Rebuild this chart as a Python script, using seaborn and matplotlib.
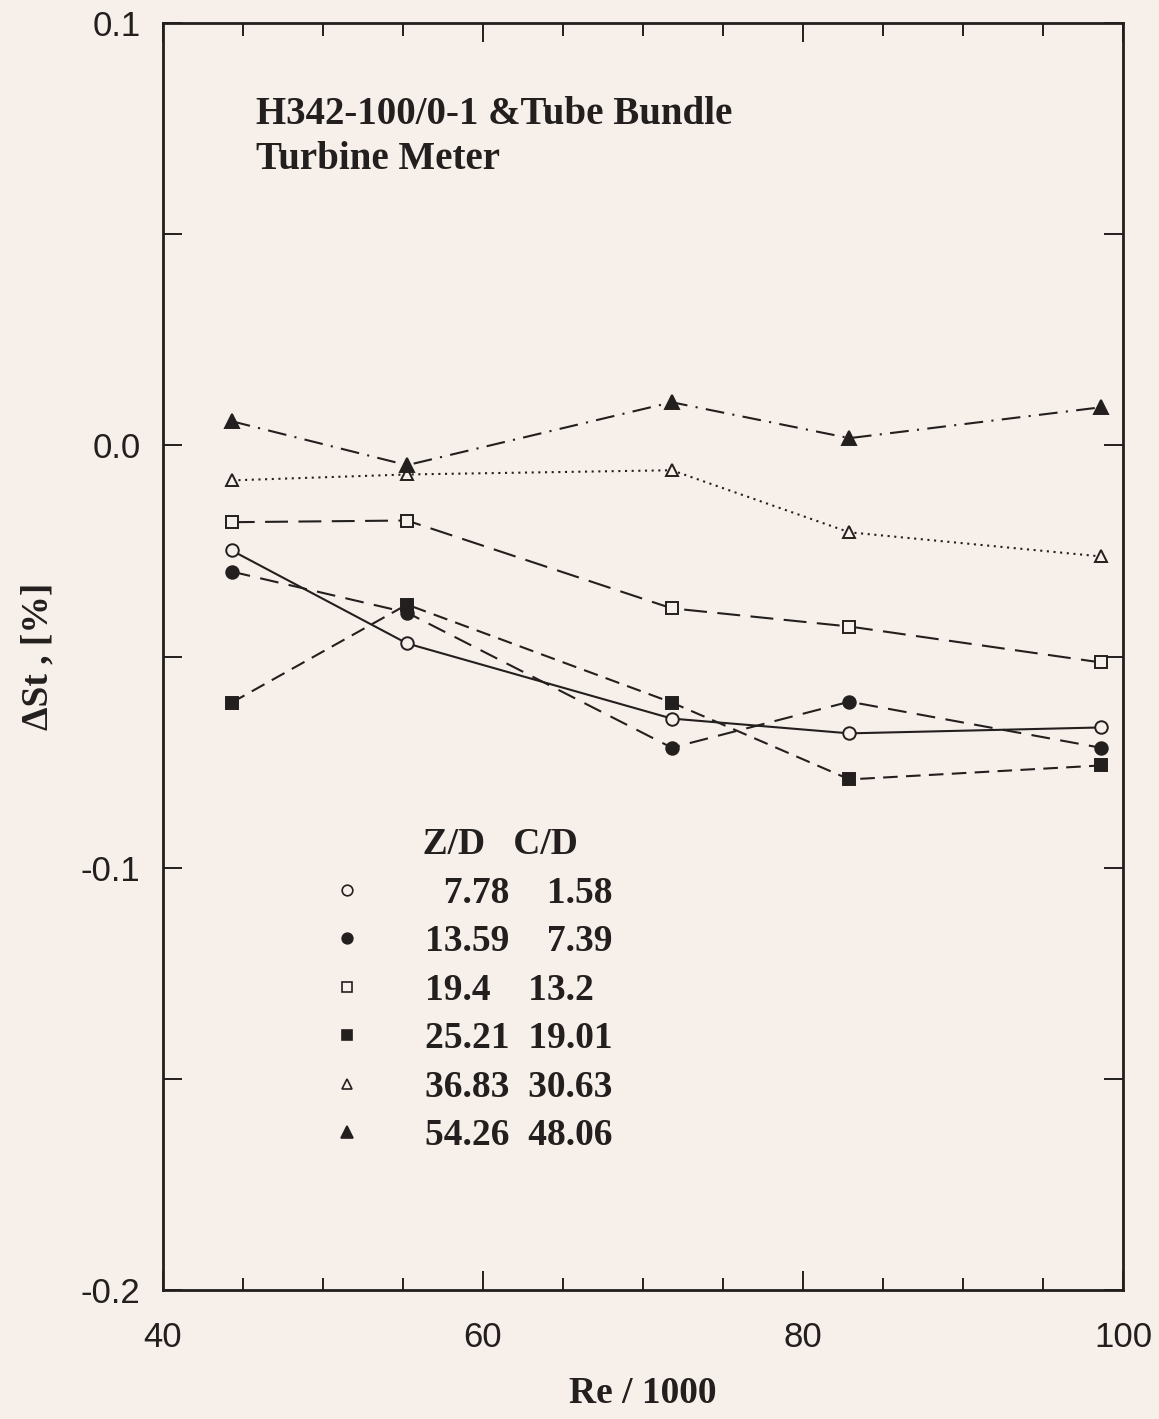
import matplotlib
matplotlib.use("Agg")
import matplotlib.pyplot as plt
import seaborn as sns
import pandas as pd
from matplotlib.ticker import MultipleLocator, FuncFormatter
from matplotlib.lines import Line2D

# Reynolds number / 1000 at each measuring point
re_k = [44.3, 55.25, 71.8, 82.9, 98.6]

# Strouhal number deviation [%] for each Z/D, C/D position
st_778 = [-0.0249, -0.0469, -0.0647, -0.0682, -0.0668]
st_1359 = [-0.0299, -0.0396, -0.0716, -0.0607, -0.0716]
st_194 = [-0.0182, -0.0178, -0.0386, -0.0429, -0.0514]
st_2521 = [-0.0609, -0.0377, -0.0609, -0.0791, -0.0758]
st_3683 = [-0.0083, -0.0069, -0.0059, -0.0206, -0.0263]
st_5426 = [0.0057, -0.0047, 0.0102, 0.0017, 0.0090]

z_d = ["7.78", "13.59", "19.4", "25.21", "36.83", "54.26"]
c_d = ["1.58", "7.39", "13.2", "19.01", "30.63", "48.06"]

title_lines = ["H342-100/0-1 &Tube Bundle", "Turbine Meter"]

series = [st_778, st_1359, st_194, st_2521, st_3683, st_5426]

BG = "#f7f0ea"
INK = "#231f1f"

# marker, filled?, line style, marker size
styles = [
    ("o", False, "-", 9),
    ("o", True, (0, (9, 5)), 9),
    ("s", False, (0, (11, 5)), 8.5),
    ("s", True, (0, (7, 4)), 8),
    ("^", False, (0, (1, 2.2)), 9),
    ("^", True, (0, (9, 4, 1, 4)), 9.5),
]

rows = []
for i, vals in enumerate(series):
    for x, y in zip(re_k, vals):
        rows.append({"re": x, "dst": y, "pos": i})
df = pd.DataFrame(rows)

sns.set_theme(style="ticks")
plt.rcParams["font.family"] = ["Liberation Sans", "DejaVu Sans"]

fig = plt.figure(figsize=(11.59, 14.19), dpi=100, facecolor=BG)
ax = fig.add_axes([0.1406, 0.0909, 0.8284, 0.8929])
ax.set_facecolor(BG)

for i, (mk, filled, ls, ms) in enumerate(styles):
    sub = df[df["pos"] == i]
    sns.lineplot(data=sub, x="re", y="dst", ax=ax, color=INK,
                 linestyle=ls, linewidth=1.5,
                 marker=mk, markersize=ms,
                 markerfacecolor=INK if filled else BG,
                 markeredgecolor=INK, markeredgewidth=1.4,
                 legend=False)

ax.set_xlim(40, 100)
ax.set_ylim(-0.2, 0.1)
ax.xaxis.set_major_locator(MultipleLocator(20))
ax.xaxis.set_minor_locator(MultipleLocator(5))
ax.yaxis.set_major_locator(MultipleLocator(0.1))
ax.yaxis.set_minor_locator(MultipleLocator(0.05))
ax.xaxis.set_major_formatter(FuncFormatter(lambda v, p: f"{v:.0f}"))
ax.yaxis.set_major_formatter(FuncFormatter(lambda v, p: f"{v:.1f}"))

ax.tick_params(axis="both", which="both", direction="in",
               bottom=True, left=True, top=True, right=True,
               colors=INK, width=1.4)
ax.tick_params(axis="x", which="major", length=14, labelsize=25, pad=22)
ax.tick_params(axis="x", which="minor", length=9)
ax.tick_params(axis="y", which="major", length=14, labelsize=25, pad=16)
ax.tick_params(axis="y", which="minor", length=14)
for s in ax.spines.values():
    s.set_visible(True)
    s.set_color(INK)
    s.set_linewidth(2.0)

serif = ["Liberation Serif", "DejaVu Serif"]
ax.set_xlabel("Re / 1000", family=serif, fontweight="bold", fontsize=27,
              color=INK, labelpad=16)
ax.set_ylabel("ΔSt , [%]", family=serif, fontweight="bold", fontsize=27,
              color=INK, labelpad=18)

ax.text(0.097, 0.942, "\n".join(title_lines), transform=ax.transAxes,
        family=serif, fontweight="bold", fontsize=28, color=INK,
        va="top", ha="left", linespacing=1.28)


# legend: marker column followed by aligned Z/D and C/D values
def pad_left(s):
    ip = s.split(".")[0]
    return "  " * (2 - len(ip)) + s


def pad_right(s):
    fp = s.split(".")[1]
    return s + "  " * (2 - len(fp))


labels = [pad_right(pad_left(z)) + "  " + pad_left(c) for z, c in zip(z_d, c_d)]
handles = []
for mk, filled, ls, ms in styles:
    handles.append(Line2D([], [], linestyle="none", marker=mk, markersize=ms * 0.85,
                          markerfacecolor=INK if filled else BG,
                          markeredgecolor=INK, markeredgewidth=1.2))
leg = ax.legend(handles, labels, title="          Z/D   C/D", loc="upper left",
                bbox_to_anchor=(0.157, 0.377), frameon=False,
                prop={"family": serif, "weight": "bold", "size": 27},
                labelspacing=0.36, handletextpad=1.57, handlelength=1.0,
                borderaxespad=0, alignment="left")
leg.get_title().set_fontfamily(serif)
leg.get_title().set_fontweight("bold")
leg.get_title().set_fontsize(27)
for t in leg.get_texts():
    t.set_color(INK)
leg.get_title().set_color(INK)

fig.savefig("out.png", dpi=100, facecolor=BG)
